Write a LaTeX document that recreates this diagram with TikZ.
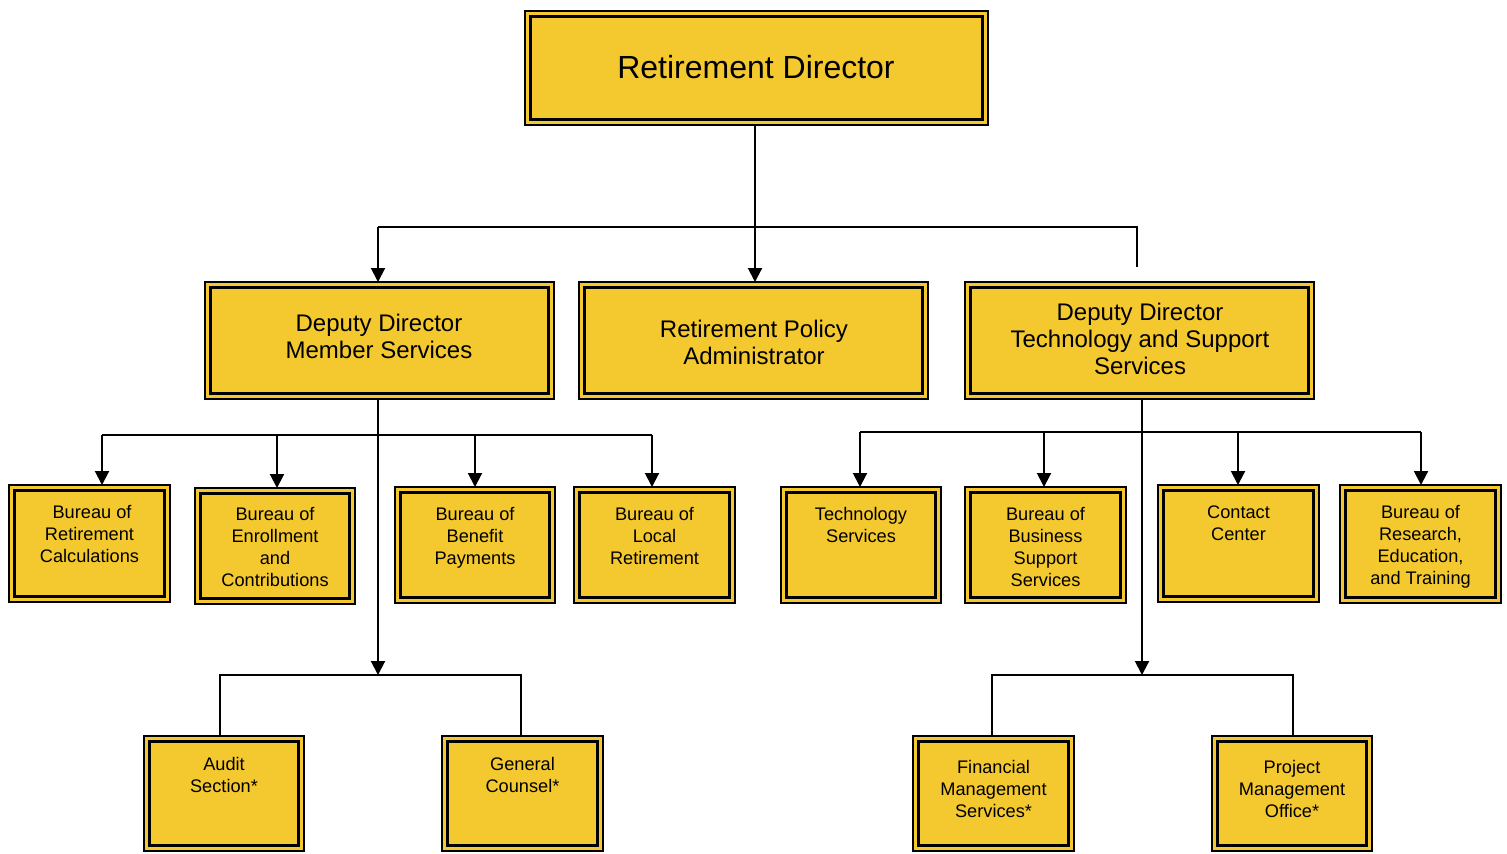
\documentclass[tikz,border=0pt]{standalone}
\usepackage{fontspec}
\setmainfont{Liberation Sans}
\usetikzlibrary{arrows.meta}
\definecolor{boxyellow}{HTML}{F4C92F}
\newcommand\obox[5]{%
  \node[outerbox, minimum width={(#4-#2)*0.5pt}, minimum height={(#5-#3)*0.5pt}] (#1) at ({(#2+#4)/2},{(#3+#5)/2}) {};
  \draw[innerline] ([xshift=2.7pt,yshift=-2.7pt]#1.north west) rectangle ([xshift=-2.7pt,yshift=2.7pt]#1.south east);
}
\begin{document}
\begin{tikzpicture}[x=0.5pt,y=-0.5pt,
  outerbox/.style={draw=black, fill=boxyellow, line width=1.2pt, inner sep=0pt, outer sep=0pt},
  innerline/.style={draw=black, line width=1.6pt},
  conn/.style={draw=black, line width=1pt},
  arr/.style={conn, -{Triangle[width=7pt,length=7pt]}},
  small/.style={font=\fontsize{9.1}{11}\selectfont, align=center, inner sep=0pt, anchor=north},
  mid/.style={font=\fontsize{12}{13.5}\selectfont, align=center, inner sep=0pt},
  big/.style={font=\fontsize{16}{19}\selectfont, inner sep=0pt}]
\useasboundingbox (0,0) rectangle (1507,853);

% top level
\obox{dir}{525}{11}{988}{125}
\node[big] (dir-t) at (756,67) {Retirement Director};

% second level
\obox{ddms}{205}{282}{554}{399}
\node[mid] (ddms-t) at (379,336) {Deputy Director\\Member Services};
\obox{rpa}{579}{282}{928}{399}
\node[mid] (rpa-t) at (754,342) {Retirement Policy\\Administrator};
\obox{ddts}{965}{282}{1314}{399}
\node[mid] (ddts-t) at (1140,339) {Deputy Director\\Technology and Support\\Services};

% third level left
\obox{brc}{9}{485}{170}{602}
\node[small] (brc-t) at ([yshift=-10.2pt]brc.north) {\ Bureau of\\Retirement\\Calculations};
\obox{bec}{195}{488}{355}{604}
\node[small] (bec-t) at ([yshift=-9.7pt]bec.north) {Bureau of\\Enrollment\\and\\Contributions};
\obox{bbp}{395}{487}{555}{603}
\node[small] (bbp-t) at ([yshift=-10.2pt]bbp.north) {Bureau of\\Benefit\\Payments};
\obox{blr}{574}{487}{735}{603}
\node[small] (blr-t) at ([yshift=-10.2pt]blr.north) {Bureau of\\Local\\Retirement};

% third level right
\obox{ts}{781}{487}{941}{603}
\node[small] (ts-t) at ([yshift=-9.7pt]ts.north) {Technology\\Services};
\obox{bbss}{965}{487}{1126}{603}
\node[small] (bbss-t) at ([yshift=-10.2pt]bbss.north) {Bureau of\\Business\\Support\\Services};
\obox{cc}{1158}{485}{1319}{602}
\node[small] (cc-t) at ([yshift=-10.2pt]cc.north) {Contact\\Center};
\obox{bret}{1340}{485}{1501}{603}
\node[small] (bret-t) at ([yshift=-10.2pt]bret.north) {Bureau of\\Research,\\Education,\\and Training};

% fourth level
\obox{aud}{144}{736}{304}{851}
\node[small] (aud-t) at ([yshift=-10.2pt]aud.north) {Audit\\Section*};
\obox{gc}{442}{736}{603}{851}
\node[small] (gc-t) at ([yshift=-10.2pt]gc.north) {General\\Counsel*};
\obox{fms}{913}{736}{1074}{851}
\node[small] (fms-t) at ([yshift=-11.7pt]fms.north) {Financial\\Management\\Services*};
\obox{pmo}{1212}{736}{1372}{851}
\node[small] (pmo-t) at ([yshift=-11.7pt]pmo.north) {Project\\Management\\Office*};

% junction coordinates
\coordinate (h1l) at (378,227);
\coordinate (h1r) at (1137,227);
\coordinate (h1e) at (1137,267);
\coordinate (h2a) at (102,435);
\coordinate (h2b) at (277,435);
\coordinate (h2c) at (475,435);
\coordinate (h2d) at (652,435);
\coordinate (h3a) at (860,432);
\coordinate (h3b) at (1044,432);
\coordinate (h3c) at (1238,432);
\coordinate (h3d) at (1421,432);
\coordinate (h4l) at (220,675);
\coordinate (h4r) at (521,675);
\coordinate (h5l) at (992,675);
\coordinate (h5r) at (1293,675);
\coordinate (msx) at (378,400);
\coordinate (tsx) at (1142,400);
\coordinate (dirx) at (755,126);

% connectors level 1
\draw[arr] (dirx) -- (dirx |- rpa.north);
\draw[conn] (h1l) -- (h1r) -- (h1e);
\draw[arr] (h1l) -- (h1l |- ddms.north);

% member services
\draw[conn] (h2a) -- (h2d);
\draw[arr] (h2a) -- (h2a |- brc.north);
\draw[arr] (h2b) -- (h2b |- bec.north);
\draw[arr] (h2c) -- (h2c |- bbp.north);
\draw[arr] (h2d) -- (h2d |- blr.north);
\draw[arr] (msx) -- (msx |- h4l);
\draw[conn] (h4l |- aud.north) -- (h4l) -- (h4r) -- (h4r |- gc.north);

% tech services
\draw[conn] (h3a) -- (h3d);
\draw[arr] (h3a) -- (h3a |- ts.north);
\draw[arr] (h3b) -- (h3b |- bbss.north);
\draw[arr] (h3c) -- (h3c |- cc.north);
\draw[arr] (h3d) -- (h3d |- bret.north);
\draw[arr] (tsx) -- (tsx |- h5l);
\draw[conn] (h5l |- fms.north) -- (h5l) -- (h5r) -- (h5r |- pmo.north);
\end{tikzpicture}
\end{document}
